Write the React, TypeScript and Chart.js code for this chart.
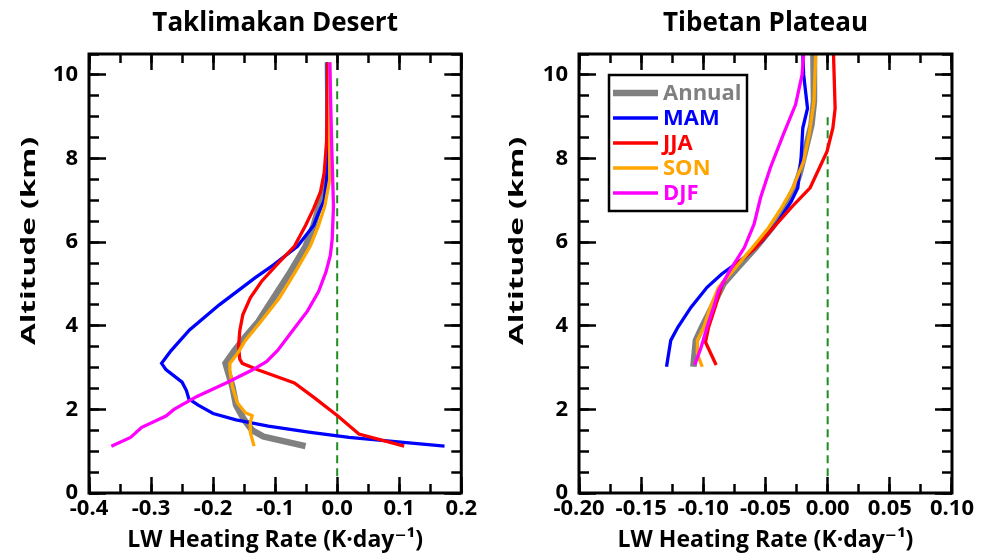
import React, { useEffect, useRef } from 'react';
import { Chart, registerables } from 'chart.js';

Chart.register(...registerables);

const FONT = '"Open Sans", "DejaVu Sans", sans-serif';

// ---------- Series meta ----------
const SERIES_LABELS = ['Annual', 'MAM', 'JJA', 'SON', 'DJF'];
const SERIES_COLORS = ['#808080', '#0000ff', '#ff0000', '#ffa500', '#ff00ff'];
const SERIES_WIDTHS = [6.5, 3.3, 3.3, 3.3, 3.3];
const ZERO_LINE_COLOR = '#1e8c1e';

// ---------- Taklimakan Desert ----------
const TD_ANNUAL_ALT = [10.3, 9.0, 8.0, 7.5, 6.9, 6.4, 5.9, 5.3, 4.7, 4.1, 3.7, 3.4, 3.1, 2.9, 2.55, 2.1, 1.75, 1.5, 1.35, 1.12];
const TD_ANNUAL_HR = [-0.015, -0.014, -0.015, -0.018, -0.028, -0.038, -0.051, -0.075, -0.101, -0.127, -0.150, -0.166, -0.180, -0.176, -0.169, -0.163, -0.150, -0.137, -0.119, -0.051];

const TD_MAM_ALT = [10.3, 8.5, 7.5, 7.0, 6.7, 6.4, 5.9, 5.45, 5.15, 4.5, 3.9, 3.4, 3.1, 2.95, 2.65, 2.45, 2.25, 2.1, 1.9, 1.75, 1.6, 1.45, 1.33, 1.12];
const TD_MAM_HR = [-0.016, -0.016, -0.017, -0.021, -0.030, -0.038, -0.064, -0.103, -0.132, -0.190, -0.238, -0.268, -0.283, -0.276, -0.250, -0.243, -0.239, -0.224, -0.200, -0.163, -0.111, -0.043, 0.019, 0.173];

const TD_JJA_ALT = [10.3, 8.4, 7.65, 7.2, 6.8, 6.4, 5.9, 5.45, 5.06, 4.67, 4.27, 3.88, 3.5, 3.2, 3.1, 2.94, 2.63, 2.27, 1.84, 1.41, 1.12];
const TD_JJA_HR = [-0.015, -0.017, -0.021, -0.027, -0.038, -0.051, -0.069, -0.098, -0.122, -0.140, -0.152, -0.157, -0.159, -0.157, -0.153, -0.127, -0.069, -0.036, 0.001, 0.035, 0.108];

const TD_SON_ALT = [10.3, 7.5, 6.86, 6.4, 5.92, 5.3, 4.67, 4.12, 3.65, 3.33, 3.1, 2.94, 2.55, 2.16, 1.92, 1.85, 1.69, 1.45, 1.12];
const TD_SON_HR = [-0.012, -0.012, -0.020, -0.030, -0.043, -0.067, -0.093, -0.122, -0.148, -0.161, -0.173, -0.173, -0.169, -0.161, -0.148, -0.137, -0.140, -0.140, -0.134];

const TD_DJF_ALT = [10.3, 8.4, 6.86, 6.08, 5.69, 5.29, 4.82, 4.35, 3.88, 3.41, 3.14, 2.94, 2.63, 2.31, 2.0, 1.84, 1.57, 1.33, 1.12];
const TD_DJF_HR = [-0.012, -0.009, -0.006, -0.008, -0.011, -0.018, -0.030, -0.048, -0.072, -0.096, -0.114, -0.137, -0.179, -0.226, -0.263, -0.276, -0.315, -0.333, -0.364];

const TD_ZERO_ALT = [0.4, 10.0];

// ---------- Tibetan Plateau ----------
const TP_ANNUAL_ALT = [10.5, 9.37, 8.81, 8.25, 7.62, 7.3, 6.83, 6.35, 5.87, 5.4, 5.0, 4.44, 3.97, 3.65, 3.02];
const TP_ANNUAL_HR = [-0.0115, -0.011, -0.013, -0.0175, -0.0227, -0.0266, -0.0344, -0.0448, -0.0579, -0.0722, -0.0839, -0.0931, -0.101, -0.106, -0.108];

const TP_MAM_ALT = [10.5, 10.0, 9.2, 8.73, 8.0, 7.3, 6.98, 6.5, 6.03, 5.63, 5.24, 4.92, 4.44, 3.97, 3.65, 3.02];
const TP_MAM_HR = [-0.020, -0.0193, -0.0162, -0.020, -0.0214, -0.024, -0.0292, -0.0396, -0.0527, -0.067, -0.0852, -0.097, -0.110, -0.1204, -0.1262, -0.1296];

const TP_JJA_ALT = [10.5, 10.0, 9.2, 8.73, 8.17, 7.3, 6.83, 6.35, 5.87, 5.4, 4.96, 4.44, 3.97, 3.61, 3.06];
const TP_JJA_HR = [0.0047, 0.0052, 0.006, 0.0042, -0.0005, -0.0141, -0.0292, -0.0435, -0.0579, -0.076, -0.0852, -0.0905, -0.0957, -0.0983, -0.0897];

const TP_SON_ALT = [10.5, 9.37, 8.57, 7.94, 7.3, 6.83, 6.35, 5.87, 5.32, 4.92, 4.44, 3.97, 3.65, 3.33, 3.02];
const TP_SON_HR = [-0.0096, -0.011, -0.0149, -0.0193, -0.0279, -0.037, -0.0474, -0.0605, -0.0761, -0.0878, -0.0944, -0.0996, -0.1048, -0.1048, -0.1009];

const TP_DJF_ALT = [10.5, 10.0, 9.29, 8.57, 7.78, 7.06, 6.43, 5.87, 5.32, 4.84, 4.44, 3.97, 3.49, 3.06];
const TP_DJF_HR = [-0.0193, -0.0206, -0.0258, -0.0357, -0.0461, -0.054, -0.0592, -0.067, -0.0787, -0.0878, -0.0917, -0.097, -0.1017, -0.1069];

const TP_ZERO_ALT = [0.4, 9.0];

// ---------- Axes ----------
const TD_X_RANGE = [-0.4, 0.2];
const TD_X_STEP = 0.05;
const TD_X_MAJOR = 0.1;
const TP_X_RANGE = [-0.2, 0.1];
const TP_X_STEP = 0.025;
const TP_X_MAJOR = 0.05;
const Y_RANGE = [0, 10.5];
const Y_STEP = 0.5;
const Y_MAJOR = 2;

const X_TITLE = 'LW Heating Rate (K·day⁻¹)';
const Y_TITLE = 'Altitude (km)';

const isMajor = (v: number, m: number) => Math.abs(v / m - Math.round(v / m)) < 1e-6;

const pts = (alt: number[], hr: number[]) => alt.map((a, i) => ({ x: hr[i], y: a }));

// Inward tick marks are drawn by Chart.js itself via a negative tick length.
const inwardGrid = (len: number) => ({
  display: true,
  drawOnChartArea: false,
  drawTicks: true,
  tickLength: -len,
  tickWidth: 2.5,
  tickColor: '#000',
  color: '#000',
  lineWidth: 1,
  z: 1,
});

const frame = {
  id: 'frame',
  afterDraw(chart: any) {
    const ctx = chart.ctx;
    const a = chart.chartArea;
    ctx.save();
    ctx.strokeStyle = '#000';
    ctx.lineWidth = 3;
    ctx.strokeRect(a.left, a.top, a.right - a.left, a.bottom - a.top);
    ctx.restore();
  },
};

function makeYTitle(x: number, y: number) {
  return {
    id: 'yTitle',
    afterDraw(chart: any) {
      const ctx = chart.ctx;
      ctx.save();
      ctx.translate(x, y);
      ctx.rotate(-Math.PI / 2);
      ctx.scale(1.58, 1);
      ctx.font = `bold 20px ${FONT}`;
      ctx.fillStyle = '#000';
      ctx.textAlign = 'center';
      ctx.textBaseline = 'middle';
      ctx.fillText(Y_TITLE, 0, 0);
      ctx.restore();
    },
  };
}

function makeLegend(show: boolean) {
  return {
    id: 'seasonLegend',
    afterDraw(chart: any) {
      if (!show) return;
      const ctx = chart.ctx;
      const a = chart.chartArea;
      const bx = a.left + 30;
      const by = a.top + 21;
      const bw = 138;
      const bh = 136;
      ctx.save();
      ctx.setLineDash([]);
      ctx.fillStyle = '#fff';
      ctx.fillRect(bx, by, bw, bh);
      ctx.strokeStyle = '#000';
      ctx.lineWidth = 2.5;
      ctx.strokeRect(bx, by, bw, bh);
      const items = chart.data.datasets.filter((d: any) => d.label);
      items.forEach((d: any, i: number) => {
        const y = by + 18 + i * 25;
        ctx.strokeStyle = d.borderColor;
        ctx.lineWidth = d.borderWidth;
        ctx.beginPath();
        ctx.moveTo(bx + 4, y);
        ctx.lineTo(bx + 49, y);
        ctx.stroke();
        ctx.fillStyle = d.borderColor;
        ctx.font = `bold 22px ${FONT}`;
        ctx.textAlign = 'left';
        ctx.textBaseline = 'middle';
        ctx.fillText(d.label, bx + 54, y + 1);
      });
      ctx.restore();
    },
  };
}

function buildConfig(p: any) {
  const series: any[] = p.series.map((s: any, i: number) => ({
    label: SERIES_LABELS[i],
    data: pts(s[0], s[1]),
    xAxisID: 'x',
    yAxisID: 'y',
    showLine: true,
    borderColor: SERIES_COLORS[i],
    backgroundColor: SERIES_COLORS[i],
    borderWidth: SERIES_WIDTHS[i],
    pointRadius: 0,
    tension: 0,
    fill: false,
    order: 9 - i,
  }));
  series.push({
    label: '',
    data: p.zeroAlt.map((a: number) => ({ x: 0, y: a })),
    xAxisID: 'x',
    yAxisID: 'y',
    showLine: true,
    borderColor: ZERO_LINE_COLOR,
    borderWidth: 2,
    borderDash: [8, 5],
    pointRadius: 0,
    fill: false,
    order: 20,
  });

  const hidden = (axis: string, position: string, min: number, max: number, step: number, len: number) => ({
    type: 'linear',
    axis,
    position,
    min,
    max,
    weight: 0,
    grid: inwardGrid(len),
    border: { display: false },
    ticks: { display: false, stepSize: step, autoSkip: false, includeBounds: false },
    title: { display: false },
    afterFit: (s: any) => {
      if (axis === 'x') s.height = 0;
      else s.width = 0;
    },
  });

  return {
    type: 'scatter',
    data: { datasets: series },
    options: {
      responsive: false,
      animation: false,
      events: [],
      layout: { padding: { left: 0, right: p.padRight, top: 0, bottom: 0 } },
      plugins: {
        legend: { display: false },
        tooltip: { enabled: false },
        title: {
          display: true,
          text: p.title,
          fullSize: false,
          color: '#000',
          font: { family: FONT, size: 26, weight: 'bold' },
          padding: { top: 8, bottom: 14.8 },
        },
      },
      scales: {
        x: {
          type: 'linear',
          axis: 'x',
          position: 'bottom',
          weight: 1,
          min: p.xRange[0],
          max: p.xRange[1],
          grid: inwardGrid(16),
          border: { display: false },
          ticks: {
            stepSize: p.xMajor,
            autoSkip: false,
            maxRotation: 0,
            minRotation: 0,
            includeBounds: false,
            padding: 19,
            color: '#000',
            font: { family: FONT, size: 22, weight: 'bold' },
            callback: (v: number) => {
              const r = Math.abs(v) < 1e-9 ? 0 : v;
              return r.toFixed(p.xDigits);
            },
          },
          title: {
            display: true,
            text: X_TITLE,
            color: '#000',
            font: { family: FONT, size: 23, weight: 'bold' },
            padding: { top: 0, bottom: 0 },
          },
          afterFit: (s: any) => {
            s.height = 61;
          },
        },
        xMinor: hidden('x', 'bottom', p.xRange[0], p.xRange[1], p.xStep, 9),
        xTop: hidden('x', 'top', p.xRange[0], p.xRange[1], p.xMajor, 16),
        xTopMinor: hidden('x', 'top', p.xRange[0], p.xRange[1], p.xStep, 9),
        y: {
          type: 'linear',
          axis: 'y',
          position: 'left',
          weight: 1,
          min: Y_RANGE[0],
          max: Y_RANGE[1],
          grid: inwardGrid(17),
          border: { display: false },
          ticks: {
            stepSize: Y_MAJOR,
            autoSkip: false,
            includeBounds: false,
            padding: 28,
            color: '#000',
            font: { family: FONT, size: 22, weight: 'bold' },
            callback: (v: number) => String(Math.round(v)),
          },
          afterFit: (s: any) => {
            s.width = p.yWidth;
          },
        },
        yMinor: hidden('y', 'left', Y_RANGE[0], Y_RANGE[1], Y_STEP, 10),
        yRight: hidden('y', 'right', Y_RANGE[0], Y_RANGE[1], Y_MAJOR, 17),
        yRightMinor: hidden('y', 'right', Y_RANGE[0], Y_RANGE[1], Y_STEP, 10),
      },
    },
    plugins: [makeYTitle(p.yTitleX, 241), makeLegend(p.legend), frame],
  };
}

const LEFT_PARAMS = {
  title: 'Taklimakan Desert',
  series: [
    [TD_ANNUAL_ALT, TD_ANNUAL_HR],
    [TD_MAM_ALT, TD_MAM_HR],
    [TD_JJA_ALT, TD_JJA_HR],
    [TD_SON_ALT, TD_SON_HR],
    [TD_DJF_ALT, TD_DJF_HR],
  ],
  zeroAlt: TD_ZERO_ALT,
  xRange: TD_X_RANGE,
  xStep: TD_X_STEP,
  xMajor: TD_X_MAJOR,
  xDigits: 1,
  padRight: 24,
  yWidth: 89,
  yTitleX: 29,
  legend: false,
};

const RIGHT_PARAMS = {
  title: 'Tibetan Plateau',
  series: [
    [TP_ANNUAL_ALT, TP_ANNUAL_HR],
    [TP_MAM_ALT, TP_MAM_HR],
    [TP_JJA_ALT, TP_JJA_HR],
    [TP_SON_ALT, TP_SON_HR],
    [TP_DJF_ALT, TP_DJF_HR],
  ],
  zeroAlt: TP_ZERO_ALT,
  xRange: TP_X_RANGE,
  xStep: TP_X_STEP,
  xMajor: TP_X_MAJOR,
  xDigits: 2,
  padRight: 31,
  yWidth: 83,
  yTitleX: 21,
  legend: true,
};

function Panel(props: { params: any; width: number }) {
  const ref = useRef<HTMLCanvasElement | null>(null);
  useEffect(() => {
    if (!ref.current) return;
    const chart = new Chart(ref.current, buildConfig(props.params) as any);
    return () => chart.destroy();
  }, []);
  return <canvas ref={ref} width={props.width} height={554} style={{ display: 'block' }} />;
}

export default function App() {
  return (
    <div style={{ position: 'fixed', left: 0, top: 0, width: 993, height: 554, background: '#fff', overflow: 'hidden', display: 'flex' }}>
      <Panel params={LEFT_PARAMS} width={496} />
      <Panel params={RIGHT_PARAMS} width={497} />
    </div>
  );
}
